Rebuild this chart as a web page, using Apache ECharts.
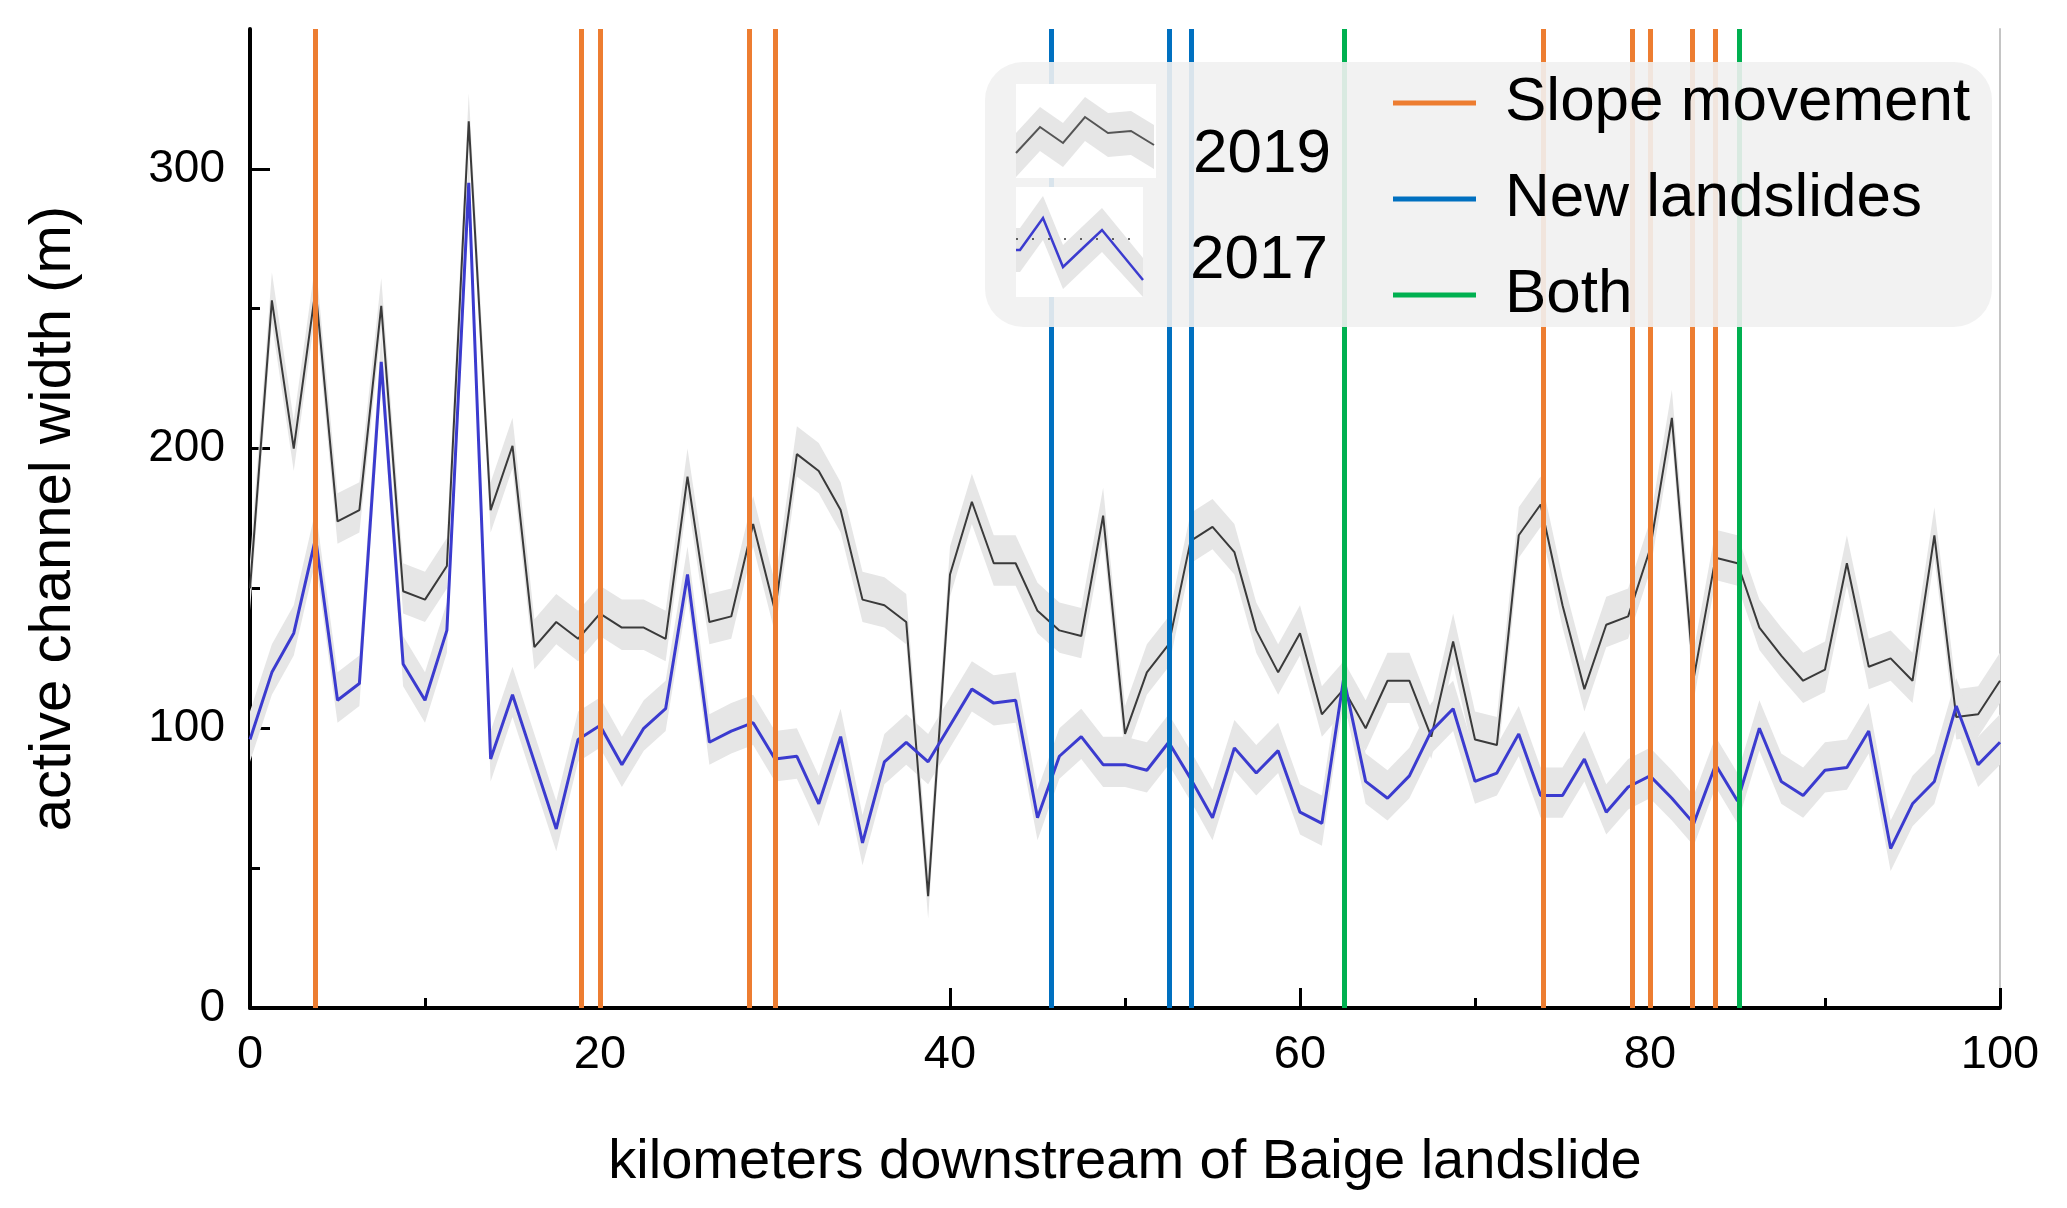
<!DOCTYPE html>
<html><head><meta charset="utf-8">
<script src="https://cdn.jsdelivr.net/npm/echarts/dist/echarts.min.js"></script>
<style>html,body{margin:0;padding:0;background:#fff}#chart{width:2067px;height:1208px}</style>
</head><body><div id="chart"></div>
<script>
const kmPositions = [0,1.25,2.5,3.75,5,6.25,7.5,8.75,10,11.25,12.5,13.75,15,16.25,17.5,18.75,
  20,21.25,22.5,23.75,25,26.25,27.5,28.75,30,31.25,32.5,33.75,35,36.25,37.5,38.75,
  40,41.25,42.5,43.75,45,46.25,47.5,48.75,50,51.25,52.5,53.75,55,56.25,57.5,58.75,
  60,61.25,62.5,63.75,65,66.25,67.5,68.75,70,71.25,72.5,73.75,75,76.25,77.5,78.75,
  80,81.25,82.5,83.75,85,86.25,87.5,88.75,90,91.25,92.5,93.75,95,96.25,97.5,98.75,100];
const width2019 = [150,253,200,257,174,178,251,149,146,158,317,178,201,129,138,132,
  141,136,136,132,190,138,140,173,142,198,192,178,146,144,138,40,
  155,181,159,159,142,135,133,176,98,120,130,167,172,163,135,120,
  134,105,114,100,117,117,97,131,96,94,169,180,144,114,137,140,
  164,211,118,161,159,136,126,117,121,159,122,125,117,169,104,105,117];
const width2017 = [96,120,134,168,110,116,231,123,110,135,295,89,112,88,64,96,
  101,87,100,107,155,95,99,102,89,90,73,97,59,88,95,88,
  101,114,109,110,68,90,97,87,87,85,95,82,68,93,84,92,
  70,66,118,81,75,83,99,107,81,84,98,76,76,89,70,79,
  83,75,66,87,74,100,81,76,85,86,99,57,73,81,108,87,95];
const slopeMovementKm = [3.7,18.9,20.0,28.5,30.0,73.9,79.0,80.0,82.4,83.7];
const newLandslidesKm = [45.8,52.5,53.8];
const bothKm = [62.5,85.1];
const xMajorTicks = [0,20,40,60,80,100];
const xMinorTicks = [10,30,50,70,90];
const yMajorTicks = [0,100,200,300];
const yMinorTicks = [50,150,250];
const bandAbove = 10, bandBelow = 8;   // grey uncertainty band half-widths (m)

const FONT = '"Liberation Sans", Arial, sans-serif';
const C_SLOPE = '#ED7D31', C_NEW = '#0070C0', C_BOTH = '#00B050';
const C_BAND = '#e6e6e6';

const pairs = arr => kmPositions.map((k, i) => [k, arr[i]]);

function bandSeries(arr) {
  return {
    type: 'custom', silent: true, z: 1, clip: true,
    data: kmPositions.map((k, i) => [k, arr[i]]),
    encode: { x: 0, y: 1 },
    renderItem: function (params, api) {
      if (params.dataIndex !== 0) return null;
      const upper = kmPositions.map((k, i) => api.coord([k, arr[i] + bandAbove]));
      const lower = kmPositions.map((k, i) => api.coord([k, arr[i] - bandBelow])).reverse();
      return { type: 'polygon', shape: { points: upper.concat(lower) },
        style: { fill: C_BAND, stroke: null } };
    }
  };
}
function vlineSeries(name, color, xs) {
  return { name, type: 'line', data: [], z: 3, color, itemStyle: { color }, lineStyle: { color },
    markLine: { silent: true, animation: false, symbol: ['none', 'none'], label: { show: false },
      lineStyle: { color, width: 5, type: 'solid' }, emphasis: { disabled: true },
      data: xs.map(x => ({ xAxis: x })) } };
}

const chart = echarts.init(document.getElementById('chart'), null, { renderer: 'canvas' });
chart.setOption({
  animation: false,
  backgroundColor: '#fff',
  grid: { left: 250, right: 67, top: 29, bottom: 200 },
  xAxis: [
    { type: 'value', min: 0, max: 100, interval: 20, position: 'bottom',
      name: 'kilometers downstream of Baige landslide', nameLocation: 'middle', nameGap: 127,
      nameTextStyle: { fontSize: 56, color: '#000', fontFamily: FONT },
      axisLine: { show: true, lineStyle: { color: '#000', width: 4 } },
      axisTick: { show: true, inside: true, length: 20, lineStyle: { color: '#000', width: 3 }, customValues: xMajorTicks },
      axisLabel: { fontSize: 47, color: '#000', fontFamily: FONT, margin: 24, customValues: xMajorTicks },
      splitLine: { show: false } },
    { type: 'value', min: 0, max: 100, interval: 10, position: 'bottom',
      axisLine: { show: false },
      axisTick: { show: true, inside: true, length: 10, lineStyle: { color: '#000', width: 3 }, customValues: xMinorTicks },
      axisLabel: { show: false }, splitLine: { show: false } }
  ],
  yAxis: [
    { type: 'value', min: 0, max: 350, interval: 100, position: 'left',
      name: 'active channel width (m)', nameLocation: 'middle', nameGap: 167,
      nameTextStyle: { fontSize: 58, color: '#000', fontFamily: FONT },
      axisLine: { show: true, lineStyle: { color: '#000', width: 4 } },
      axisTick: { show: true, inside: true, length: 20, lineStyle: { color: '#000', width: 3 }, customValues: yMajorTicks },
      axisLabel: { fontSize: 46, color: '#000', fontFamily: FONT, margin: 25, customValues: yMajorTicks },
      splitLine: { show: false } },
    { type: 'value', min: 0, max: 350, interval: 50, position: 'left',
      axisLine: { show: false },
      axisTick: { show: true, inside: true, length: 10, lineStyle: { color: '#000', width: 3 }, customValues: yMinorTicks },
      axisLabel: { show: false }, splitLine: { show: false } },
    { type: 'value', min: 0, max: 350, interval: 50, position: 'right',
      axisLine: { show: true, lineStyle: { color: '#c4c4c4', width: 2 } },
      axisTick: { show: false }, axisLabel: { show: false }, splitLine: { show: false } }
  ],
  legend: {
    data: ['Slope movement', 'New landslides', 'Both'],
    orient: 'vertical', left: 1393, top: 67, padding: 0,
    itemWidth: 83, itemHeight: 5, itemGap: 24, icon: 'rect', selectedMode: false, z: 20,
    textStyle: { fontSize: 62, lineHeight: 72, color: '#000', fontFamily: FONT, padding: [0, 0, 0, 24] }
  },
  graphic: [
    { type: 'rect', z: 10, silent: true, shape: { x: 985, y: 62, width: 1007, height: 265, r: 38 },
      style: { fill: 'rgba(241,241,241,0.9)' } },
    // 2019 icon
    { type: 'rect', z: 11, silent: true, shape: { x: 1016, y: 84, width: 140, height: 94 }, style: { fill: '#fff' } },
    { type: 'polygon', z: 12, silent: true, shape: { points: [[1016,133],[1040,107],[1063,123],[1085,97],[1108,113],[1131,111],[1154,125],
        [1154,169],[1131,155],[1108,157],[1085,141],[1063,167],[1040,151],[1016,177]] }, style: { fill: C_BAND } },
    { type: 'polyline', z: 13, silent: true, shape: { points: [[1016,153],[1040,127],[1063,143],[1085,117],[1108,133],[1131,131],[1154,145]] },
      style: { stroke: '#555', lineWidth: 2, fill: null } },
    // 2017 icon
    { type: 'rect', z: 11, silent: true, shape: { x: 1016, y: 187, width: 127, height: 110 }, style: { fill: '#fff' } },
    { type: 'polygon', z: 12, silent: true, shape: { points: [[1016,228],[1020,228],[1043,196],[1063,245],[1084,225],[1102,208],[1143,258],
        [1143,297],[1102,252],[1084,269],[1063,289],[1043,240],[1020,272],[1016,272]] }, style: { fill: C_BAND } },
    { type: 'polyline', z: 13, silent: true, shape: { points: [[1016,239],[1135,239]] },
      style: { stroke: '#333', lineWidth: 1.5, lineDash: [2, 14], fill: null } },
    { type: 'polyline', z: 14, silent: true, shape: { points: [[1016,250],[1020,250],[1043,218],[1063,267],[1084,247],[1102,230],[1143,280]] },
      style: { stroke: '#3b3bcf', lineWidth: 2.5, fill: null } },
    { type: 'text', z: 14, silent: true, style: { text: '2019', x: 1193, y: 155, align: 'left', verticalAlign: 'middle',
        font: '62px ' + FONT, fill: '#000' } },
    { type: 'text', z: 14, silent: true, style: { text: '2017', x: 1190, y: 261, align: 'left', verticalAlign: 'middle',
        font: '62px ' + FONT, fill: '#000' } }
  ],
  series: [
    bandSeries(width2019),
    bandSeries(width2017),
    { name: '2019', type: 'line', data: pairs(width2019), symbol: 'none', z: 2,
      lineStyle: { color: '#3a3a3a', width: 2 }, itemStyle: { color: '#3a3a3a' } },
    { name: '2017', type: 'line', data: pairs(width2017), symbol: 'none', z: 2,
      lineStyle: { color: '#3b3bcf', width: 3 }, itemStyle: { color: '#3b3bcf' } },
    vlineSeries('Slope movement', C_SLOPE, slopeMovementKm),
    vlineSeries('New landslides', C_NEW, newLandslidesKm),
    vlineSeries('Both', C_BOTH, bothKm)
  ]
});
</script></body></html>
